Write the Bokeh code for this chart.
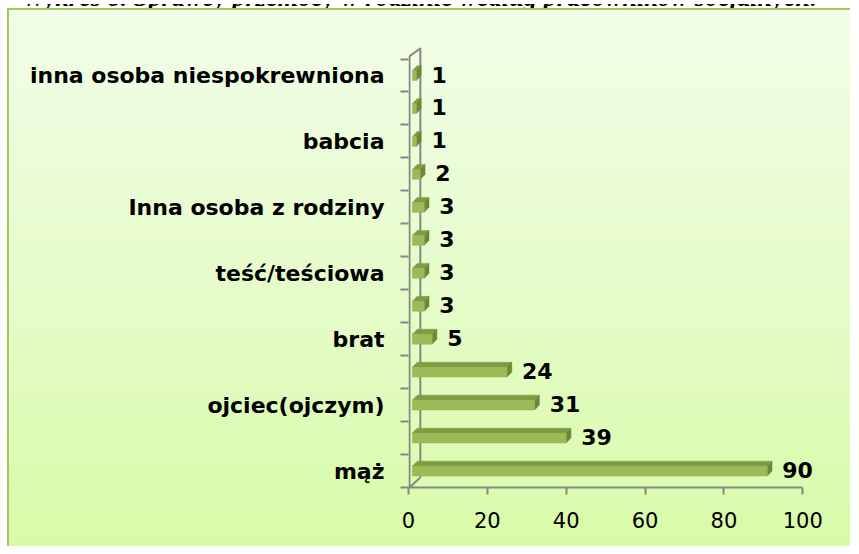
from bokeh.plotting import figure
from bokeh.models import Range1d, FixedTicker, Div, ColumnDataSource
from bokeh.layouts import column
from bokeh.core.properties import value
from bokeh.embed import file_html
from bokeh.resources import INLINE

# ---- data (bottom to top); unlabeled categories are hidden by the axis label skip ----
categories = ["mąż", "", "ojciec(ojczym)", "", "brat", "", "teść/teściowa", "",
              "Inna osoba z rodziny", "", "babcia", "", "inna osoba niespokrewniona"]
values = [90, 39, 31, 24, 5, 3, 3, 3, 3, 2, 1, 1, 1]
x_ticks = [0, 20, 40, 60, 80, 100]
title_text = "Wykres 8. Sprawcy przemocy w rodzinie według pracowników socjalnych."

# ---- style constants ----
GRAY = "#868686"
FACE = "#9bbb59"
TOP = "#7f9c43"
SIDE = "#6b8834"
X_START = 1.0       # bar front face start (3D depth shift)
BAR_H = 0.30        # bar front face height (category units)
DX, DY = 1.2, 0.15  # bar depth
WALL_DX, WALL_DY = 3.0, 0.30
Y0, Y1 = -0.5, 12.85
X_MAX = 104.5

n = len(values)
pos = list(range(n))
right = [X_START + v for v in values]
bottom = [c - BAR_H / 2 for c in pos]
top = [c + BAR_H / 2 for c in pos]
top_xs = [[X_START, r, r + DX, X_START + DX] for r in right]
top_ys = [[t, t, t + DY, t + DY] for t in top]
side_xs = [[r, r, r + DX, r + DX] for r in right]
side_ys = [[b, t, t + DY, b + DY] for b, t in zip(bottom, top)]

src = ColumnDataSource(dict(left=[X_START] * n, right=right, bottom=bottom, top=top,
                            pos=pos, lab=[str(v) for v in values]))

p = figure(width=844, height=538, x_range=Range1d(0, X_MAX), y_range=Range1d(Y0, Y1),
           output_backend="svg", toolbar_location=None,
           min_border_left=401, min_border_right=30, min_border_top=39, min_border_bottom=59,
           margin=(0, -8, -8, 7),
           styles={"background": "linear-gradient(to bottom, #f2fde8 0%, #e6fccb 50%, #d8fba8 100%)",
                   "box-shadow": "inset 2px 2px 0 #9fca5f"})
p.background_fill_color = None
p.border_fill_color = None
p.outline_line_color = None
p.grid.visible = False

# 3D wall lines (front axis, back wall, joining diagonals)
front_top = Y0 + 13.09
p.segment(x0=[0.25, WALL_DX, 0.25, 0.25], y0=[Y0, Y0 + WALL_DY, Y0, front_top],
          x1=[0.25, WALL_DX, WALL_DX, WALL_DX], y1=[front_top, Y1, Y0 + WALL_DY, Y1 - 0.03],
          line_color=GRAY, line_width=2)

# 3D bars
p.patches(xs=top_xs, ys=top_ys, fill_color=TOP, line_color=TOP, line_width=0.5)
p.patches(xs=side_xs, ys=side_ys, fill_color=SIDE, line_color=SIDE, line_width=0.5)
p.quad(left="left", right="right", bottom="bottom", top="top", source=src,
       fill_color=FACE, line_color="#8fb04c", line_width=0.5)

# value labels
p.text(x="right", y="pos", text="lab", source=src, x_offset=15, y_offset=-1,
       text_font=value("DejaVu Sans"), text_font_style="bold", text_font_size="22px",
       text_color="#000000", text_baseline="middle", text_align="left")

# x axis
xa = p.xaxis[0]
xa.ticker = FixedTicker(ticks=x_ticks)
xa.bounds = (x_ticks[0], x_ticks[-1])
xa.axis_line_color = GRAY
xa.axis_line_width = 2
xa.major_tick_line_color = GRAY
xa.major_tick_line_width = 2
xa.major_tick_out = 7
xa.major_tick_in = 0
xa.minor_tick_line_color = None
xa.major_label_standoff = 17
xa.major_label_text_font = "DejaVu Sans"
xa.major_label_text_font_size = "21px"
xa.major_label_text_color = "#000000"

# y axis
ya = p.yaxis[0]
ya.ticker = FixedTicker(ticks=pos, minor_ticks=[c - 0.5 for c in range(n + 1)])
ya.major_label_overrides = {c: lab for c, lab in zip(pos, categories)}
ya.axis_line_color = None
ya.major_tick_line_color = None
ya.major_tick_out = 0
ya.major_tick_in = 0
ya.minor_tick_line_color = GRAY
ya.minor_tick_line_width = 2
ya.minor_tick_out = 8
ya.minor_tick_in = 0
ya.major_label_standoff = 16
ya.major_label_text_font = "DejaVu Sans"
ya.major_label_text_font_style = "bold"
ya.major_label_text_font_size = "22px"
ya.major_label_text_color = "#000000"

# title: only its lower part is visible at the top edge, as in the reference
title = Div(text=("<div style=\"position:relative;width:843px;height:8px;overflow:hidden\">"
                  "<div style=\"position:absolute;left:22px;top:-22px;font-family:'Liberation Serif';"
                  "font-style:italic;font-weight:bold;font-size:26.3px;line-height:31px;"
                  "white-space:nowrap;color:#000\">" + title_text + "</div></div>"),
            width=843, height=8, margin=(0, 0, 0, 0))

layout = column(title, p, spacing=0)
open("out.html", "w").write(file_html(layout, INLINE))
